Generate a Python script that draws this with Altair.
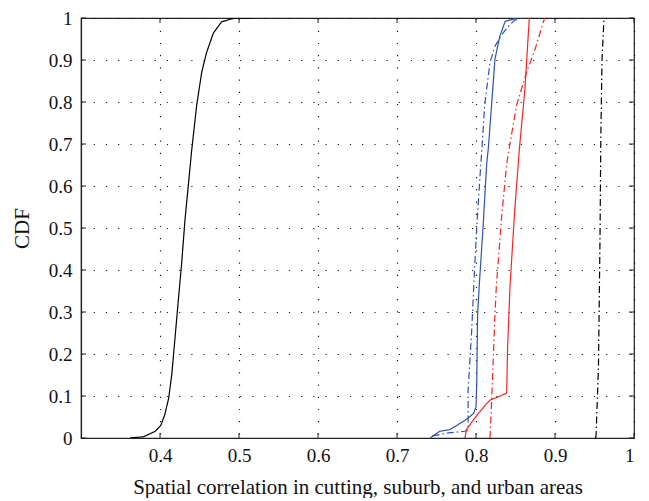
import altair as alt
import pandas as pd

# ---- data ----
black_solid_x = [0.362, 0.379, 0.394, 0.401, 0.406, 0.411, 0.415, 0.419, 0.423, 0.4275, 0.4316, 0.436, 0.440, 0.4465, 0.4528, 0.459, 0.4675, 0.478, 0.493, 0.516]
black_solid_y = [0.0, 0.003, 0.016, 0.03, 0.055, 0.095, 0.153, 0.238, 0.324, 0.418, 0.519, 0.605, 0.683, 0.793, 0.871, 0.918, 0.964, 0.991, 0.999, 1.0]

black_dash_x = [0.9515, 0.952, 0.955, 0.957, 0.958, 0.9595, 0.962]
black_dash_y = [0.0, 0.008, 0.168, 0.48, 0.715, 0.90, 1.0]

blue_solid_x = [0.742, 0.754, 0.767, 0.780, 0.790, 0.797, 0.800, 0.801, 0.802, 0.804, 0.809, 0.8135, 0.8156, 0.820, 0.824, 0.830, 0.837, 0.847, 0.8515]
blue_solid_y = [0.0, 0.016, 0.02, 0.035, 0.047, 0.059, 0.074, 0.137, 0.293, 0.36, 0.504, 0.652, 0.69, 0.80, 0.902, 0.956, 0.992, 0.997, 1.0]

blue_dash_x = [0.745, 0.765, 0.786, 0.790, 0.790, 0.7945, 0.7975, 0.801, 0.805, 0.8075, 0.811, 0.8177, 0.824, 0.8325, 0.841, 0.849, 0.858]
blue_dash_y = [0.005, 0.012, 0.016, 0.02, 0.114, 0.254, 0.375, 0.504, 0.621, 0.69, 0.793, 0.894, 0.933, 0.96, 0.98, 0.995, 1.0]

red_solid_x = [0.786, 0.788, 0.7966, 0.805, 0.8135, 0.8177, 0.828, 0.8388, 0.840, 0.843, 0.849, 0.855, 0.862, 0.865, 0.8675]
red_solid_y = [0.0, 0.02, 0.043, 0.063, 0.082, 0.09, 0.098, 0.107, 0.215, 0.36, 0.542, 0.69, 0.832, 0.925, 1.0]

red_dash_x = [0.8177, 0.82, 0.824, 0.8257, 0.8325, 0.8388, 0.842, 0.8515, 0.864, 0.8747, 0.881, 0.886, 0.887]
red_dash_y = [0.0, 0.098, 0.293, 0.36, 0.527, 0.652, 0.69, 0.793, 0.871, 0.925, 0.964, 0.995, 1.0]

series_names = ["black_solid", "black_dash", "blue_solid", "blue_dash", "red_solid", "red_dash"]
series_colors = ["#000000", "#000000", "#2f52b3", "#2f52b3", "#f52525", "#f52525"]
series_dash = [[1, 0], [7, 3, 1.5, 3], [1, 0], [7, 3, 1.5, 3], [1, 0], [7, 3, 1.5, 3]]

x_ticks = [0.4, 0.5, 0.6, 0.7, 0.8, 0.9, 1.0]
y_ticks = [0.0, 0.1, 0.2, 0.3, 0.4, 0.5, 0.6, 0.7, 0.8, 0.9, 1.0]

x_title = "Spatial correlation in cutting, suburb, and urban areas"
y_title = "CDF"

# ---- build table ----
rows = []
for name, xs, ys in [
    ("black_solid", black_solid_x, black_solid_y),
    ("black_dash", black_dash_x, black_dash_y),
    ("blue_solid", blue_solid_x, blue_solid_y),
    ("blue_dash", blue_dash_x, blue_dash_y),
    ("red_solid", red_solid_x, red_solid_y),
    ("red_dash", red_dash_x, red_dash_y),
]:
    for i, (a, b) in enumerate(zip(xs, ys)):
        rows.append({"series": name, "x": a, "y": b, "order": i})
df = pd.DataFrame(rows)

W, H = 553, 420
FONT = "Liberation Serif"

xscale = alt.Scale(domain=[0.3, 1.0], nice=False, zero=False)
yscale = alt.Scale(domain=[0.0, 1.0], nice=False, zero=False)

lines = alt.Chart(df).mark_line(strokeWidth=1.2, clip=True).encode(
    x=alt.X("x:Q", scale=xscale,
            axis=alt.Axis(values=x_ticks, format=".1~f", title=x_title, grid=True,
                          ticks=False, labelPadding=8, titleY=49, titleBaseline="middle")),
    y=alt.Y("y:Q", scale=yscale,
            axis=alt.Axis(values=y_ticks, format=".1~f", title=y_title, grid=True,
                          ticks=False, labelPadding=9, titleX=-59, titleY=H / 2,
                          titleBaseline="middle", titleAngle=270)),
    color=alt.Color("series:N", scale=alt.Scale(domain=series_names, range=series_colors), legend=None),
    strokeDash=alt.StrokeDash("series:N", scale=alt.Scale(domain=series_names, range=series_dash), legend=None),
    order="order:Q",
)

xt = pd.DataFrame({"v": x_ticks})
yt = pd.DataFrame({"v": y_ticks})
tick_style = dict(color="#222222", strokeWidth=1)
bottom_ticks = alt.Chart(xt).mark_rule(**tick_style).encode(
    x=alt.X("v:Q", scale=xscale), y=alt.value(H), y2=alt.value(H - 5))
top_ticks = alt.Chart(xt).mark_rule(**tick_style).encode(
    x=alt.X("v:Q", scale=xscale), y=alt.value(0), y2=alt.value(5))
left_ticks = alt.Chart(yt).mark_rule(**tick_style).encode(
    y=alt.Y("v:Q", scale=yscale), x=alt.value(0), x2=alt.value(5))
right_ticks = alt.Chart(yt).mark_rule(**tick_style).encode(
    y=alt.Y("v:Q", scale=yscale), x=alt.value(W), x2=alt.value(W - 5))

chart = alt.layer(lines, bottom_ticks, top_ticks, left_ticks, right_ticks).properties(
    width=W, height=H,
    background="white",
    autosize=alt.AutoSizeParams(type="none"),
    padding={"left": 73, "top": 10, "right": 7, "bottom": 60},
).configure_view(
    stroke="#222222", strokeWidth=1.2
).configure_axis(
    domainColor="#222222", domainWidth=1.2,
    gridColor="#000000", gridDash=[1.2, 11], gridWidth=1.2, gridOpacity=0.9,
    labelFont=FONT, labelFontSize=19, labelColor="#111111",
    titleFont=FONT, titleFontSize=21, titleFontWeight="normal", titleColor="#111111",
)

chart.save("out.html", embed_options={"renderer": "svg", "actions": False})
